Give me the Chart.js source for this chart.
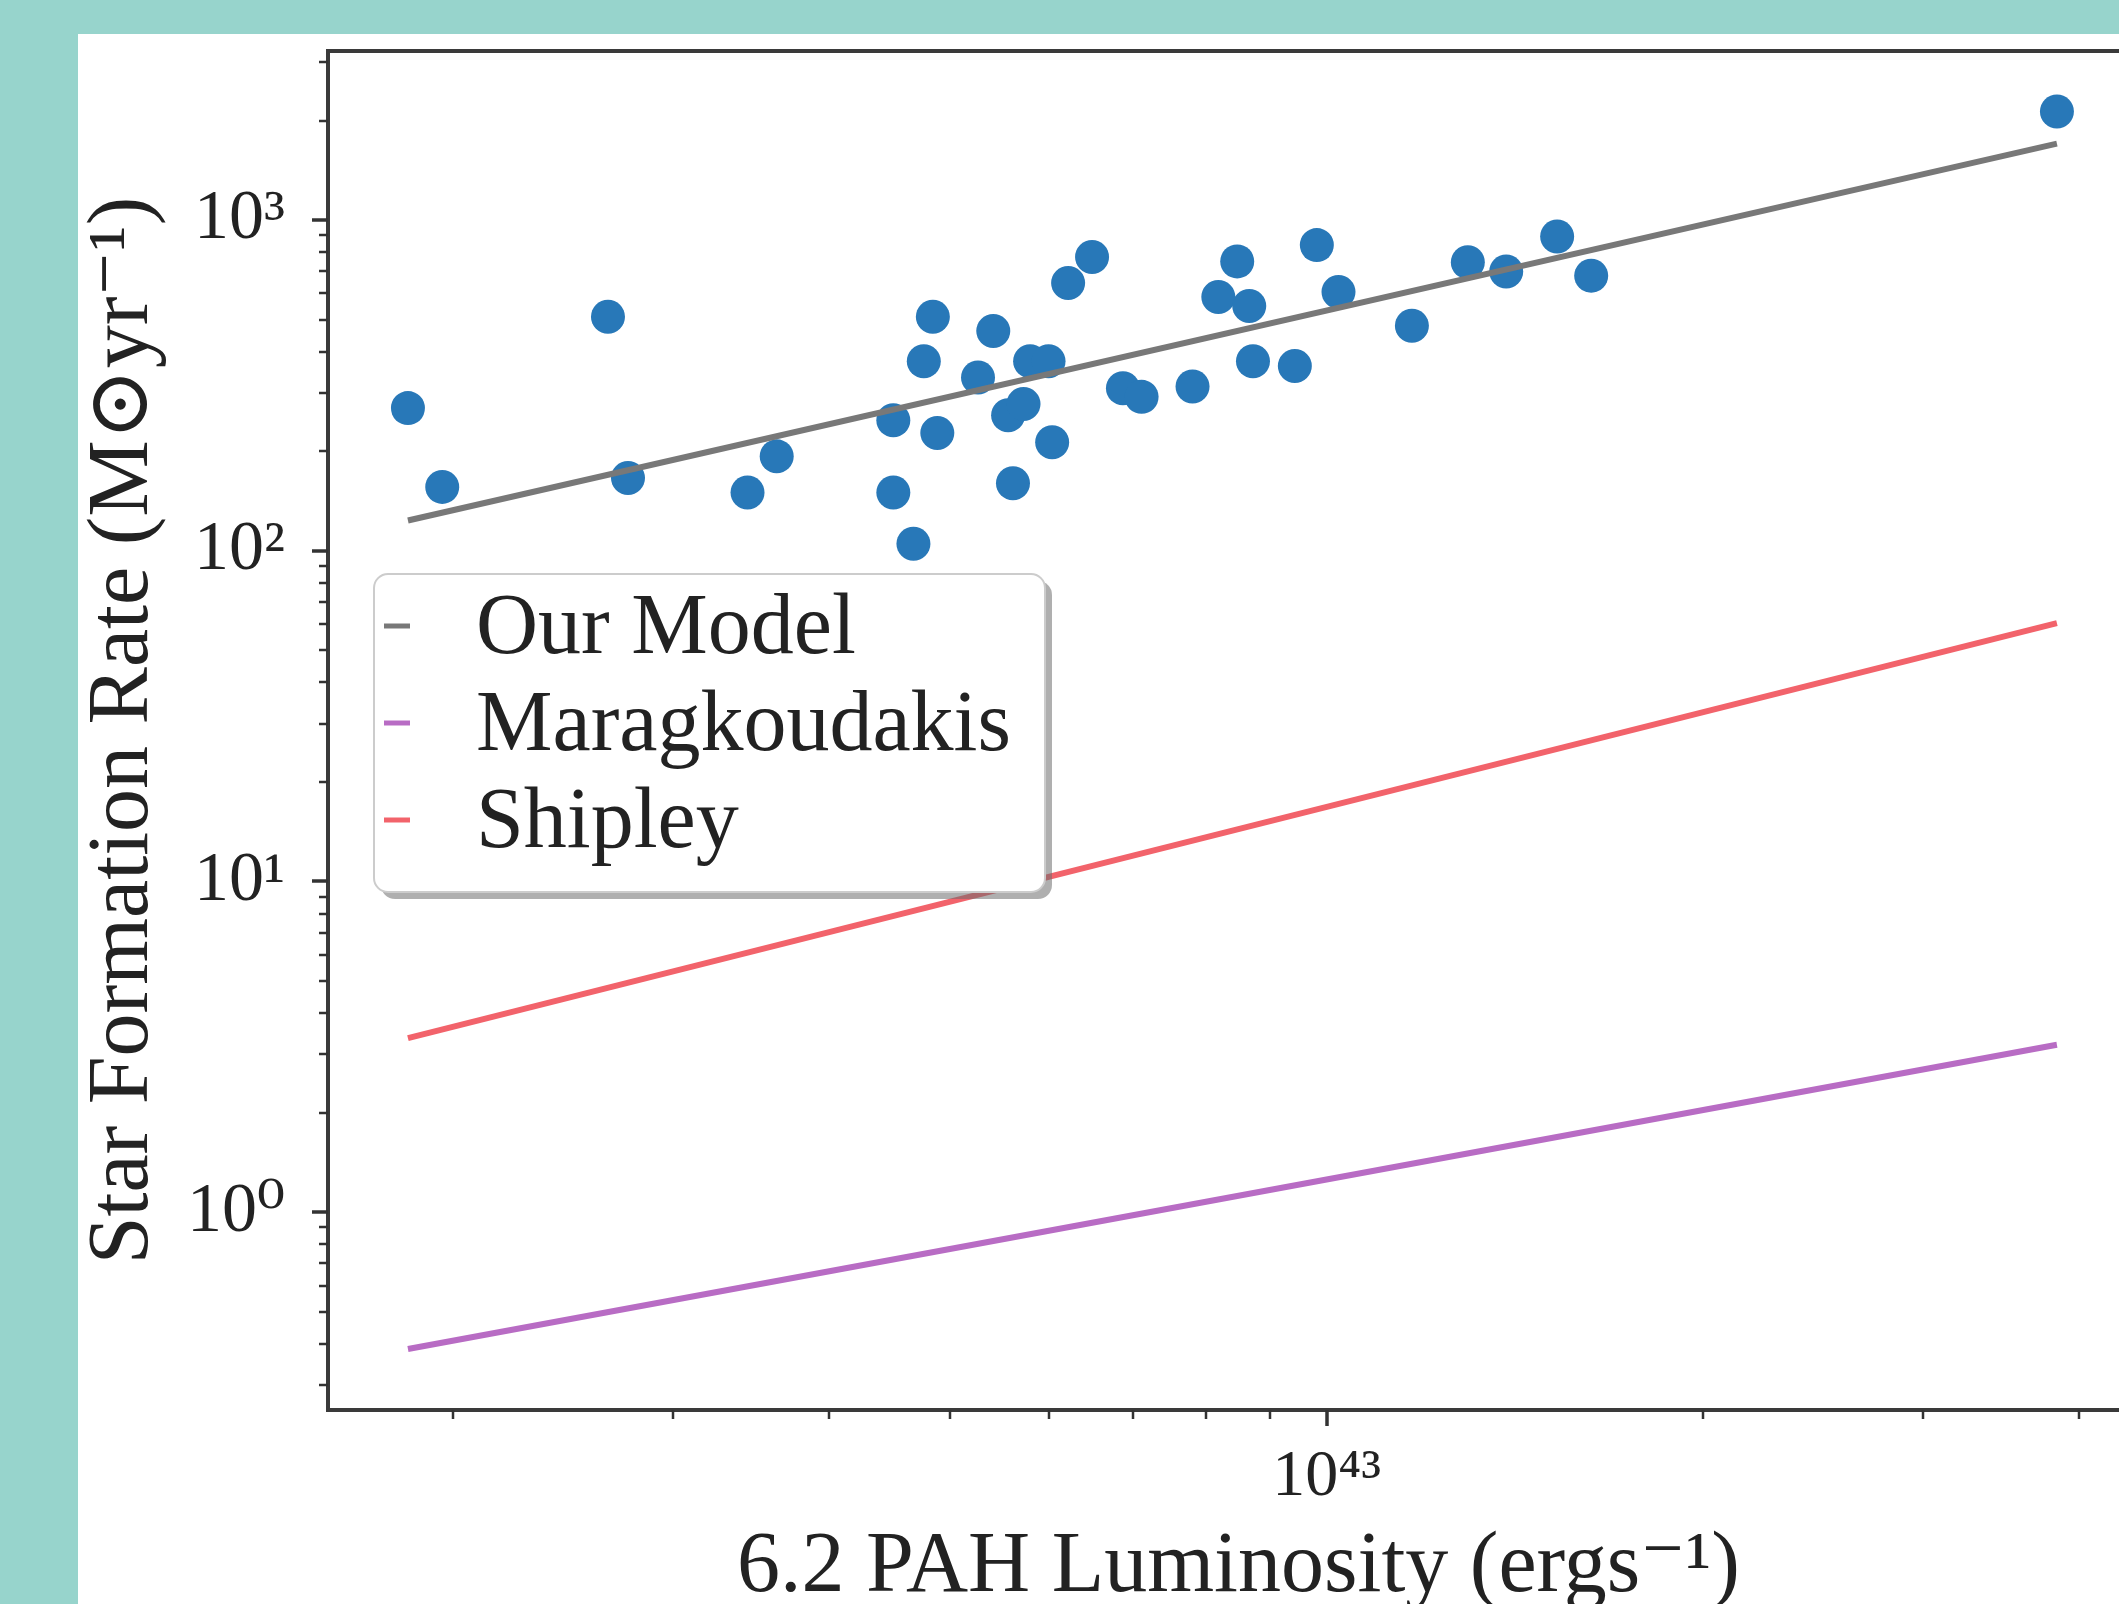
<!DOCTYPE html>
<html>
<head>
<meta charset="utf-8">
<script src="https://cdn.jsdelivr.net/npm/chart.js@4.4.1/dist/chart.umd.min.js"></script>
<style>
    html, body { margin: 0; padding: 0; width: 2119px; height: 1604px; overflow: hidden; background: #97d4cc; }
    #panel { position: absolute; left: 78px; top: 34px; right: 0; bottom: 0; background: #ffffff; }
    #sfrChart { position: absolute; left: 78px; top: 34px; }
</style>
</head>
<body>
<div id="panel"></div>
<canvas id="sfrChart" width="2100" height="1640"></canvas>
<script>
// 6.2 micron PAH luminosity (erg/s) and star formation rate (Msun/yr) per galaxy
var pahLum = [
    1.84e42, 1.96e42, 2.66e42, 2.76e42, 3.44e42, 3.63e42, 4.50e42, 4.50e42,
    4.67e42, 4.76e42, 4.84e42, 4.88e42, 5.26e42, 5.41e42, 5.61e42, 5.56e42,
    5.72e42, 5.79e42, 5.99e42, 6.03e42, 6.21e42, 6.49e42, 6.87e42, 7.11e42,
    7.81e42, 8.19e42, 8.48e42, 8.67e42, 8.73e42, 9.43e42, 9.82e42, 1.022e43,
    1.17e43, 1.297e43, 1.392e43, 1.529e43, 1.628e43, 3.84e43
];
var sfr = [
    270, 156, 510, 166, 150, 193, 150, 248,
    105, 374, 510, 227, 334, 462, 160, 257,
    278, 374, 374, 213, 645, 773, 310, 292,
    314, 585, 750, 550, 374, 362, 840, 606,
    479, 746, 699, 892, 679, 2130
];

// calibration lines, evaluated at the ends of the luminosity range
var lineLum = [1.84e42, 3.84e43];
var modelSfr = [123.5, 1702];
var maragSfr = [0.386, 3.21];
var shipleySfr = [3.36, 60.4];

var seriesNames = ['Our Model', 'Maragkoudakis', 'Shipley'];
var seriesColors = ['#787878', '#b86cc4', '#f2636b'];

var xRange = [1.588e42, 4.55e43];
var yRange = [0.2523, 3245];

var SERIF = '"Liberation Serif", "DejaVu Serif", serif';
var SUP = { '0': '⁰', '1': '¹', '2': '²', '3': '³', '4': '⁴', '5': '⁵', '6': '⁶', '7': '⁷', '8': '⁸', '9': '⁹', '-': '⁻' };

function toPairs(xs, ys) {
    return xs.map(function(x, i) { return { x: x, y: ys[i] }; });
}

// every 1..9 x 10^n inside the range, decades flagged as major
function logTicks(min, max) {
    var out = [];
    for (var e = Math.floor(Math.log10(min)); e <= Math.ceil(Math.log10(max)); e++) {
        for (var m = 1; m < 10; m++) {
            var v = m * Math.pow(10, e);
            if (v >= min && v <= max) out.push({ value: v, major: m === 1 });
        }
    }
    return out;
}

function powerLabel(value, index, ticks) {
    if (!ticks[index].major) return '';
    var exp = String(Math.round(Math.log10(value)));
    return '10' + exp.split('').map(function(c) { return SUP[c]; }).join('');
}

// keep the plot box exactly where the layout puts it
function noLabelOverhang(scale) {
    scale.paddingTop = 0;
    scale.paddingBottom = 0;
    scale.paddingLeft = 0;
    scale.paddingRight = 0;
}

// matplotlib-like frame: major/minor ticks, top spine, shadowed legend
var mplDecor = {
    id: 'mplDecor',
    afterDatasetsDraw: function(chart) {
        var ctx = chart.ctx;
        var area = chart.chartArea;
        var xs = chart.scales.x, ys = chart.scales.y;
        ctx.save();
        ctx.strokeStyle = '#333333';
        ctx.lineCap = 'butt';

        ys.ticks.forEach(function(t) {
            var py = Math.round(ys.getPixelForValue(t.value));
            var len = t.major ? 16 : 9;
            ctx.lineWidth = t.major ? 3.5 : 2.5;
            ctx.beginPath();
            ctx.moveTo(area.left - len, py);
            ctx.lineTo(area.left, py);
            ctx.stroke();
        });
        xs.ticks.forEach(function(t) {
            var px = Math.round(xs.getPixelForValue(t.value));
            var len = t.major ? 16 : 9;
            ctx.lineWidth = t.major ? 3.5 : 2.5;
            ctx.beginPath();
            ctx.moveTo(px, area.bottom);
            ctx.lineTo(px, area.bottom + len);
            ctx.stroke();
        });

        ctx.lineWidth = 4;
        ctx.strokeStyle = '#3a3a3a';
        ctx.beginPath();
        ctx.moveTo(area.left - 2, area.top);
        ctx.lineTo(area.right, area.top);
        ctx.lineTo(area.right, area.bottom);
        ctx.stroke();

        // legend box
        var bx = area.left + 46, by = area.top + 523, bw = 671, bh = 318, r = 14;
        ctx.fillStyle = 'rgba(110,110,110,0.55)';
        ctx.beginPath();
        ctx.roundRect(bx + 7, by + 7, bw, bh, r);
        ctx.fill();
        ctx.fillStyle = '#ffffff';
        ctx.strokeStyle = '#cccccc';
        ctx.lineWidth = 2;
        ctx.beginPath();
        ctx.roundRect(bx, by, bw, bh, r);
        ctx.fill();
        ctx.stroke();

        ctx.font = '86px ' + SERIF;
        ctx.textBaseline = 'middle';
        ctx.textAlign = 'left';
        chart.data.datasets.forEach(function(ds) {
            if (ds.legendRow === undefined) return;
            var cy = by + 52 + ds.legendRow * 97;
            ctx.strokeStyle = ds.borderColor;
            ctx.lineWidth = 5;
            ctx.beginPath();
            ctx.moveTo(bx + 10, cy);
            ctx.lineTo(bx + 36, cy);
            ctx.stroke();
            ctx.fillStyle = '#222222';
            ctx.fillText(ds.label, bx + 102, cy + 4);
        });
        ctx.restore();
    }
};

var lineSets = [modelSfr, maragSfr, shipleySfr].map(function(ys, i) {
    return {
        type: 'line',
        label: seriesNames[i],
        legendRow: i,
        data: toPairs(lineLum, ys),
        borderColor: seriesColors[i],
        borderWidth: 6,
        pointRadius: 0,
        fill: false,
        order: 0
    };
});

new Chart(document.getElementById('sfrChart'), {
    type: 'scatter',
    data: {
        datasets: [{
            label: 'Galaxies',
            data: toPairs(pahLum, sfr),
            backgroundColor: '#2878b8',
            borderWidth: 0,
            pointRadius: 17,
            order: 1
        }].concat(lineSets)
    },
    options: {
        responsive: false,
        animation: false,
        devicePixelRatio: 1,
        layout: { padding: { top: 17, right: 29, left: 0, bottom: 0 } },
        plugins: {
            legend: { display: false },
            tooltip: { enabled: false }
        },
        scales: {
            x: {
                type: 'logarithmic',
                min: xRange[0],
                max: xRange[1],
                afterBuildTicks: function(scale) { scale.ticks = logTicks(xRange[0], xRange[1]); },
                afterFit: function(scale) { scale.height = 264; noLabelOverhang(scale); },
                grid: { display: false },
                border: { display: true, color: '#3a3a3a', width: 4 },
                ticks: {
                    autoSkip: false,
                    maxRotation: 0,
                    padding: 20,
                    color: '#222222',
                    font: { family: SERIF, size: 66 },
                    callback: powerLabel
                },
                title: {
                    display: true,
                    text: '6.2 PAH Luminosity (ergs⁻¹)',
                    color: '#222222',
                    font: { family: SERIF, size: 86, lineHeight: 1 },
                    padding: { top: 0, bottom: 63 }
                }
            },
            y: {
                type: 'logarithmic',
                min: yRange[0],
                max: yRange[1],
                afterBuildTicks: function(scale) { scale.ticks = logTicks(yRange[0], yRange[1]); },
                afterFit: function(scale) { scale.width = 250; noLabelOverhang(scale); },
                grid: { display: false },
                border: { display: true, color: '#3a3a3a', width: 4 },
                ticks: {
                    autoSkip: false,
                    padding: 35,
                    color: '#222222',
                    font: { family: SERIF, size: 70 },
                    callback: powerLabel
                },
                title: {
                    display: true,
                    text: 'Star Formation Rate (M⊙yr⁻¹)',
                    color: '#222222',
                    font: { family: SERIF, size: 86, lineHeight: 1 },
                    padding: { top: 3, bottom: 0 }
                }
            }
        }
    },
    plugins: [mplDecor]
});
</script>
</body>
</html>
